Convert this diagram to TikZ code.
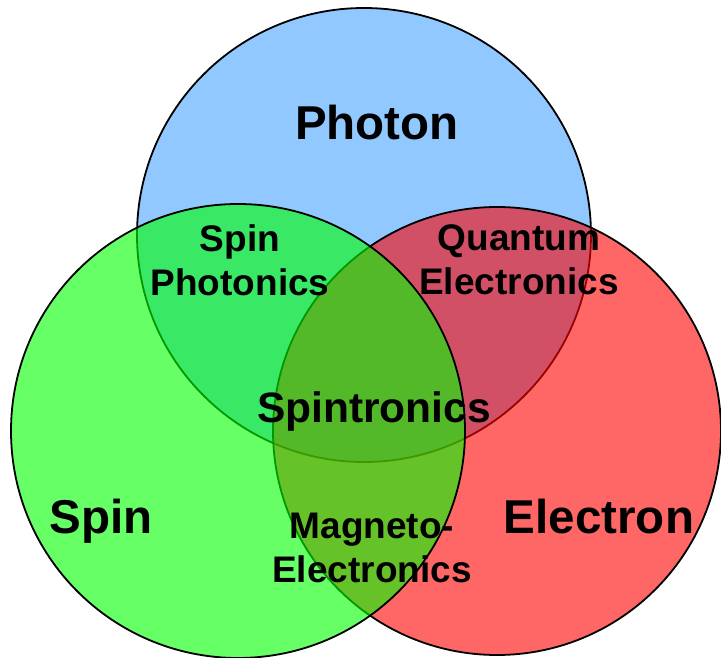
\documentclass[tikz,border=0pt]{standalone}
\usepackage{fontspec}
\setmainfont{Liberation Sans}

\definecolor{photonblue}{RGB}{144,200,255}
\definecolor{electronred}{RGB}{255,0,0}
\definecolor{spingreen}{RGB}{0,255,0}

\begin{document}
\begin{tikzpicture}[
  x=1pt,y=-1pt,
  line width=1.8pt,
  % each disc is filled see-through, its rim drawn solid on top
  disc/.style={draw=black,fill=#1},
  seethru/.style={fill opacity=0.6},
  big/.style={font=\bfseries\fontsize{47.5}{52}\selectfont,inner sep=0pt,anchor=base},
  mid/.style={font=\bfseries\fontsize{42.5}{48}\selectfont,inner sep=0pt,anchor=base},
  small/.style={font=\bfseries\fontsize{37}{44}\selectfont,align=center,inner sep=0pt},
]

\useasboundingbox (0,0) rectangle (721,658);

%--- geometry ----------------------------------------------------------------
\def\phx{364}   \def\phy{235}   \def\phr{227}   % photon disc
\def\elx{497}   \def\ely{431}   \def\elr{224}   % electron disc
\def\spx{238}   \def\spy{431}   \def\spr{227}   % spin disc

%--- the three discs ---------------------------------------------------------
\draw[disc=photonblue] (\phx,\phy) circle[radius=\phr];
\fill[electronred,seethru] (\elx,\ely) circle[radius=\elr];
\draw (\elx,\ely) circle[radius=\elr];
\fill[spingreen,seethru] (\spx,\spy) circle[radius=\spr];
\draw (\spx,\spy) circle[radius=\spr];

%--- labels ------------------------------------------------------------------
\node[big] (photon) at (377,140) {Photon};
\node[big] (spin) at (101,533) {Spin};
\node[big] (electron) at (599,533) {Electron};

\node[small] (spinphot) at (240,260) {Spin\\Photonics};
\node[small] (quantel) at (519,260) {Quantum\\Electronics};
\node[small] (magnetel) at (372,548) {Magneto-\\Electronics};

\node[mid] (spintr) at (374,422) {Spintronics};

\end{tikzpicture}
\end{document}
